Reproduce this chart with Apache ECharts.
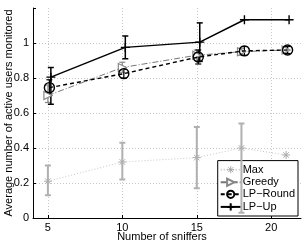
<!DOCTYPE html>
<html><head><meta charset="utf-8">
<script src="https://cdn.jsdelivr.net/npm/echarts@6/dist/echarts.min.js"></script>
<style>html,body{margin:0;padding:0;background:#fff}#c{width:305px;height:245px}</style>
</head><body><div id="c"></div>
<script>
const xTicks = [5, 10, 15, 20];
const yTicks = [0, 0.2, 0.4, 0.6, 0.8, 1];
const seriesNames = ['Max', 'Greedy', 'LP\u2212Round', 'LP\u2212Up'];

const maxX  = [5, 10, 15, 18, 21];
const maxY  = [0.21, 0.32, 0.345, 0.40, 0.36];
const maxLo = [0.13, 0.22, 0.17, 0.03, null];
const maxHi = [0.30, 0.43, 0.52, 0.54, null];

const greedyX  = [5, 10, 15, 18, 21];
const greedyY  = [0.70, 0.86, 0.93, 0.95, 0.96];
const greedyLo = [0.66, 0.83, 0.90, 0.93, 0.94];
const greedyHi = [0.76, 0.89, 0.96, 0.97, 0.98];

const roundX  = [5.1, 10.1, 15.1, 18.2, 21.1];
const roundY  = [0.745, 0.825, 0.92, 0.955, 0.96];
const roundLo = [0.70, 0.80, 0.88, 0.93, 0.94];
const roundHi = [0.79, 0.85, 0.96, 0.98, 0.98];

const upX  = [5.2, 10.2, 15.2, 18.2, 21.2];
const upY  = [0.805, 0.975, 1.005, 1.133, 1.133];
const upLo = [0.65, 0.91, 0.895, null, null];
const upHi = [0.86, 1.04, 1.115, null, null];

const FONT = 'Liberation Sans, Arial, sans-serif';
const zip = (a, b) => a.map((v, i) => [v, b[i]]);
const zipErr = (x, lo, hi) => x.map((v, i) => [v, lo[i], hi[i]]).filter(d => d[1] != null);

function errSeries(name, x, lo, hi, color, width, z) {
  return {
    type: 'custom', name: name + '_err', silent: true, z: z,
    data: zipErr(x, lo, hi),
    encode: { x: 0, y: [1, 2] },
    renderItem: function (params, api) {
      const xv = api.value(0);
      const a = api.coord([xv, api.value(2)]);
      const b = api.coord([xv, api.value(1)]);
      const w = 3;
      const st = { stroke: color, lineWidth: width };
      return { type: 'group', children: [
        { type: 'line', shape: { x1: a[0], y1: a[1], x2: b[0], y2: b[1] }, style: st },
        { type: 'line', shape: { x1: a[0] - w, y1: a[1], x2: a[0] + w, y2: a[1] }, style: st },
        { type: 'line', shape: { x1: b[0] - w, y1: b[1], x2: b[0] + w, y2: b[1] }, style: st }
      ]};
    }
  };
}

const STAR = 'path://M5,0 L5,10 M0,5 L10,5 M1.5,1.5 L8.5,8.5 M8.5,1.5 L1.5,8.5';
const PLUS = 'path://M5,0 L5,10 M0,5 L10,5';
const TRI  = 'path://M0,0 L10,5 L0,10 Z';

const gridColors = ['#c8c8c8','#c8c8c8','#c8c8c8','#c8c8c8','#c8c8c8','#c8c8c8','rgba(0,0,0,0)'];

const option = {
  animation: false,
  backgroundColor: '#fff',
  textStyle: { fontFamily: FONT },
  grid: { left: 33, right: 4, top: 8, bottom: 27, containLabel: false, outerBoundsMode: 'none' },
  xAxis: {
    type: 'value', min: 4, max: 22,
    name: 'Number of sniffers', nameLocation: 'middle', nameGap: 13, nameMoveOverlap: false,
    nameTextStyle: { fontSize: 11, color: '#000', fontFamily: FONT, padding: [0, 10, 0, 0] },
    axisLine: { show: true, onZero: false, lineStyle: { color: '#000', width: 1 } },
    axisTick: { show: true, inside: true, length: 3, customValues: xTicks, lineStyle: { color: '#000' } },
    axisLabel: { customValues: xTicks, fontSize: 11, color: '#000', margin: 4, fontFamily: FONT },
    splitLine: { show: true, lineStyle: { color: '#c8c8c8', type: [1, 2], width: 1 } }
  },
  yAxis: {
    type: 'value', min: 0, max: 1.2, interval: 0.2,
    name: 'Average number of active users monitored', nameLocation: 'middle', nameGap: 19, nameMoveOverlap: false,
    nameTextStyle: { fontSize: 11, color: '#000', fontFamily: FONT },
    axisLine: { show: true, lineStyle: { color: '#000', width: 1 } },
    axisTick: { show: true, inside: true, length: 3, lineStyle: { color: '#000' } },
    axisLabel: { fontSize: 11, color: '#000', margin: 4, fontFamily: FONT,
      formatter: v => (yTicks.some(t => Math.abs(t - v) < 1e-6) ? String(Math.round(v * 10) / 10) : '') },
    splitLine: { show: true, lineStyle: { color: gridColors, type: [1, 2], width: 1 } }
  },
  legend: {
    orient: 'vertical', right: 7, bottom: 29,
    data: [
      { name: seriesNames[0], itemStyle: { color: 'none', borderColor: '#999', borderWidth: 0.8 } },
      seriesNames[1], seriesNames[2], seriesNames[3]
    ],
    backgroundColor: '#fff', borderColor: '#000', borderWidth: 1, borderRadius: 0,
    padding: [3, 3, 3, 2], itemGap: 1, itemWidth: 20, itemHeight: 9,
    textStyle: { fontSize: 11, lineHeight: 9, color: '#000', fontFamily: FONT, padding: [0, 0, 0, -3] },
    z: 10
  },
  series: [
    errSeries('Max', maxX, maxLo, maxHi, '#b0b0b0', 2, 11),
    errSeries('Greedy', greedyX, greedyLo, greedyHi, '#888', 1.2, 1),
    errSeries('Round', roundX, roundLo, roundHi, '#000', 1.2, 1),
    errSeries('Up', upX, upLo, upHi, '#000', 1.5, 1),
    {
      type: 'line', name: seriesNames[0], data: zip(maxX, maxY), z: 3,
      symbol: STAR, symbolSize: 8,
      lineStyle: { color: '#c8c8c8', width: 1, type: [1, 2] },
      itemStyle: { color: 'none', borderColor: '#aaa', borderWidth: 1 }
    },
    {
      type: 'line', name: seriesNames[1], data: zip(greedyX, greedyY), z: 3,
      symbol: TRI, symbolSize: [8, 8],
      lineStyle: { color: '#777', width: 1, type: [6, 2, 1, 2] },
      itemStyle: { color: '#fff', borderColor: '#888', borderWidth: 1.2 }
    },
    {
      type: 'line', name: seriesNames[2], data: zip(roundX, roundY), z: 4,
      symbol: 'circle', symbolSize: 10,
      lineStyle: { color: '#000', width: 1.4, type: [4, 3] },
      itemStyle: { color: 'rgba(255,255,255,0)', borderColor: '#000', borderWidth: 1.4 }
    },
    {
      type: 'line', name: seriesNames[3], data: zip(upX, upY), z: 5,
      symbol: PLUS, symbolSize: 9,
      lineStyle: { color: '#000', width: 1.5 },
      itemStyle: { color: 'none', borderColor: '#000', borderWidth: 1.4 }
    }
  ]
};
const chart = echarts.init(document.getElementById('c'), null, { renderer: 'canvas' });
chart.setOption(option);
</script></body></html>
